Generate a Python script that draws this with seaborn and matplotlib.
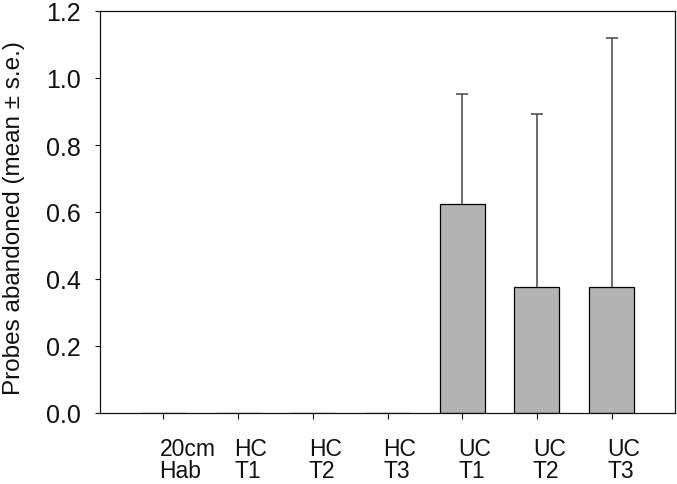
import matplotlib
matplotlib.use('Agg')
import matplotlib.pyplot as plt
import matplotlib.transforms as mtransforms
import seaborn as sns
import numpy as np

# values
categories = ['20cm\nHab', 'HC\nT1', 'HC\nT2', 'HC\nT3', 'UC\nT1', 'UC\nT2', 'UC\nT3']
means = [0.0, 0.0, 0.0, 0.0, 0.625, 0.375, 0.375]
se = [0.0, 0.0, 0.0, 0.0, 0.327, 0.518, 0.745]

sns.set_theme(style='ticks')
plt.rcParams['font.family'] = ['Liberation Sans', 'DejaVu Sans']

fig = plt.figure(figsize=(6.77, 4.85), dpi=100)
ax = fig.add_axes([100 / 677, 1 - 414 / 485, 575 / 677, 402 / 485])

sns.barplot(x=categories, y=means, order=categories, color='#b3b3b3', saturation=1,
            edgecolor='black', linewidth=0.9, width=0.6, errorbar=None, ax=ax)

# only the upper half of the error bar is drawn, no cap at the bar top
pos = np.arange(len(categories))
m = np.array(means)
s = np.array(se)
keep = s > 0
eb = ax.errorbar(pos[keep], m[keep], yerr=[np.zeros(keep.sum()), s[keep]], fmt='none',
                 ecolor='#444444', elinewidth=1.1, capsize=4.5, capthick=1.1, zorder=1)
eb[1][0].remove()

ax.set_xlim(-0.85, 6.85)
ax.set_ylim(0, 1.2)
yt = np.arange(0, 1.21, 0.2)
ax.set_yticks(yt)
ax.set_yticklabels([f'{v:.1f}' for v in yt])

for side in ['top', 'right', 'left', 'bottom']:
    ax.spines[side].set_visible(True)
    ax.spines[side].set_color('#111111')
    ax.spines[side].set_linewidth(0.9)

ax.tick_params(axis='y', direction='out', length=3.6, width=0.8, pad=10.5, labelsize=18, colors='#111111')
ax.tick_params(axis='x', direction='out', length=4.5, width=0.8, pad=13, labelsize=16.5, colors='#111111')

offset = mtransforms.ScaledTranslation(-4 / 100, 0, fig.dpi_scale_trans)
for lab in ax.get_xticklabels():
    lab.set_horizontalalignment('left')
    lab.set_multialignment('left')
    lab.set_linespacing(0.92)
    lab.set_transform(lab.get_transform() + offset)

ax.set_xlabel('')
ax.set_ylabel('Probes abandoned (mean ± s.e.)', fontsize=17.5, color='#111111')
ax.yaxis.set_label_coords(-0.13, 0.487)

fig.savefig('out.png', dpi=100)
